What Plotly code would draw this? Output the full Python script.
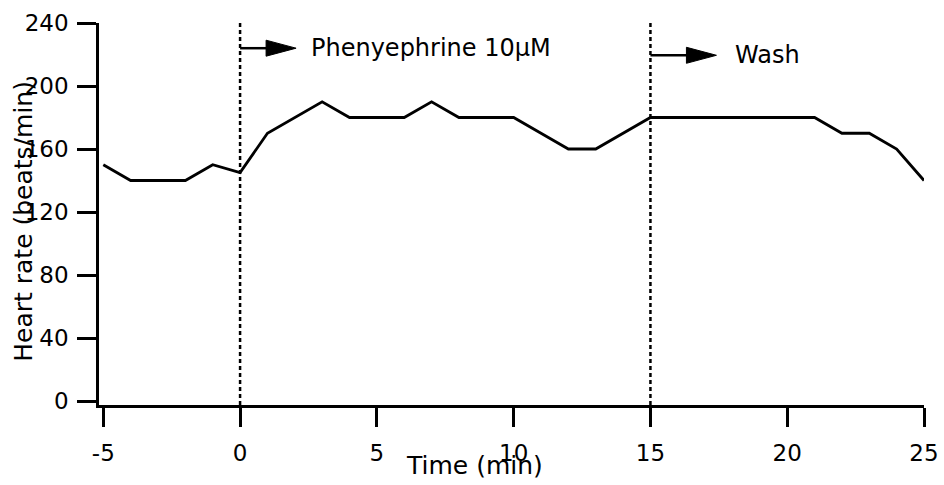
import plotly.graph_objects as go

# ---- data ----
time_min = list(range(-5, 26))
heart_rate = [150, 140, 140, 140, 150, 145, 170, 180, 190, 180,
              180, 180, 190, 180, 180, 180, 170, 160, 160, 170,
              180, 180, 180, 180, 180, 180, 180, 170, 170, 160, 140]
event_times = [0, 15]
event_labels = ["Phenyephrine 10\u03bcM", "Wash"]
x_ticks = [-5, 0, 5, 10, 15, 20, 25]
y_ticks = [0, 40, 80, 120, 160, 200, 240]

FONT = "DejaVu Sans"

fig = go.Figure()
fig.add_trace(go.Scatter(x=time_min, y=heart_rate, mode="lines",
                         line=dict(color="black", width=2.8),
                         showlegend=False, hoverinfo="skip"))

# event dotted lines, arrows and labels
arrow_y = [224, 219.5]
shaft_end = [27, 37]
text_shift = [69, 83]
for t, lab, ay, se, ts in zip(event_times, event_labels, arrow_y, shaft_end, text_shift):
    fig.add_shape(type="line", xref="x", yref="paper", x0=t, x1=t, y0=0, y1=1,
                  line=dict(color="black", width=2.5, dash="4px,3px"))
    fig.add_shape(type="line", xref="x", yref="y", xsizemode="pixel", ysizemode="pixel",
                  xanchor=t, yanchor=ay, x0=0, x1=se, y0=0, y1=0,
                  line=dict(color="black", width=2.5))
    fig.add_shape(type="path", xref="x", yref="y", xsizemode="pixel", ysizemode="pixel",
                  xanchor=t, yanchor=ay,
                  path=f"M{se-1},-8 L{se-1},8 L{se+29},0 Z",
                  fillcolor="black", line=dict(color="black", width=1))
    fig.add_annotation(x=t, y=ay, xref="x", yref="y", text=lab, showarrow=False,
                       xanchor="left", yanchor="middle", xshift=ts,
                       font=dict(family=FONT, size=24, color="black"))

# axis titles
fig.add_annotation(x=0.455, y=-0.158, xref="paper", yref="paper", text="Time (min)",
                   showarrow=False, xanchor="center", yanchor="middle",
                   font=dict(family=FONT, size=25, color="black"))
fig.add_annotation(x=-0.0909, y=0.4796, xref="paper", yref="paper",
                   text="Heart rate (beats/min)", textangle=-90,
                   showarrow=False, xanchor="center", yanchor="middle",
                   font=dict(family=FONT, size=25, color="black"))

fig.update_xaxes(range=[-5.157, 25], tickvals=x_ticks, ticktext=[str(v) for v in x_ticks],
                 showline=True, linecolor="black", linewidth=2.5, automargin=False,
                 ticks="outside", ticklen=19, tickwidth=2.5, tickcolor="black",
                 showgrid=False, zeroline=False, ticklabelstandoff=7,
                 tickfont=dict(family=FONT, size=23, color="black"))
fig.update_yaxes(range=[-2.54, 240], tickvals=y_ticks, ticktext=[str(v) for v in y_ticks],
                 showline=True, linecolor="black", linewidth=2.5, automargin=False,
                 ticks="outside", ticklen=19, tickwidth=2.5, tickcolor="black",
                 showgrid=False, zeroline=False, ticklabelstandoff=4,
                 tickfont=dict(family=FONT, size=23, color="black"))

fig.update_layout(width=944, height=485, autosize=False,
                  margin=dict(l=99, r=20, t=23, b=80, pad=0),
                  plot_bgcolor="white", paper_bgcolor="white",
                  font=dict(family=FONT, color="black"))

fig.write_html("out.html")
